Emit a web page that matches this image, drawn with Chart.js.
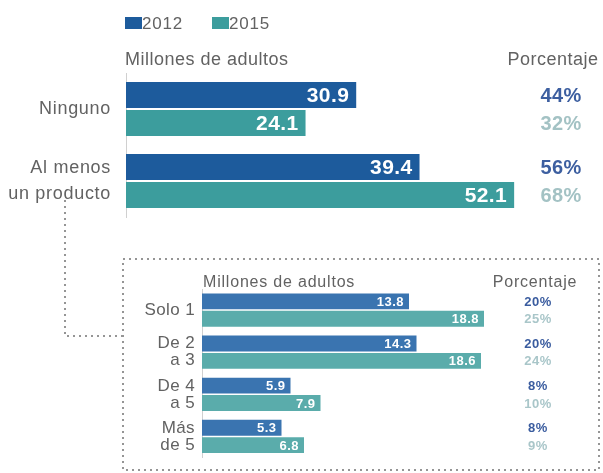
<!DOCTYPE html>
<html>
<head>
<meta charset="utf-8">
<script src="https://cdn.jsdelivr.net/npm/chart.js@4/dist/chart.umd.min.js"></script>
<style>
html,body{margin:0;padding:0;background:#fff;}
#wrap{position:relative;width:603px;height:473px;overflow:hidden;background:#fff;}
#wrap canvas,#wrap svg{position:absolute;left:0;top:0;}
</style>
</head>
<body>
<div id="wrap">
<svg width="603" height="473" xmlns="http://www.w3.org/2000/svg">
  <g fill="none" stroke="#959595" stroke-width="2" stroke-dasharray="2 4">
    <path d="M65 200 V336 H123"/>
    <rect x="123" y="259" width="476" height="211"/>
  </g>
</svg>
<canvas id="topChart" width="603" height="473"></canvas>
<canvas id="subChart" width="603" height="473"></canvas>
</div>
<script>
// ---- data ----
const years = ['2012', '2015'];
const topCategories = ['Ninguno', ['Al menos', 'un producto']];
const top2012 = [30.9, 39.4];
const top2015 = [24.1, 52.1];
const topPct2012 = [44, 56];
const topPct2015 = [32, 68];

const subCategories = ['Solo 1', ['De 2', 'a 3'], ['De 4', 'a 5'], ['Más', 'de 5']];
const sub2012 = [13.8, 14.3, 5.9, 5.3];
const sub2015 = [18.8, 18.6, 7.9, 6.8];
const subPct2012 = [20, 20, 8, 8];
const subPct2015 = [25, 24, 10, 9];

const axisTitle = 'Millones de adultos';
const pctTitle = 'Porcentaje';

// ---- styling ----
const FONT = '"Liberation Sans", Arial, Helvetica, sans-serif';
const GRAY = '#626262';

const decorPlugin = {
  id: 'decor',
  beforeDraw(chart, args, o) {
    chart.ctx.letterSpacing = o.tickSpacing || '0px';
  },
  afterDatasetsDraw(chart, args, o) {
    const ctx = chart.ctx;
    chart.data.datasets.forEach((ds, di) => {
      const meta = chart.getDatasetMeta(di);
      meta.data.forEach((bar, i) => {
        ctx.save();
        ctx.letterSpacing = o.valueSpacing;
        ctx.font = o.valueFont;
        ctx.fillStyle = '#ffffff';
        ctx.textAlign = 'right';
        ctx.textBaseline = 'middle';
        ctx.fillText(ds.data[i].toFixed(1), bar.x - o.inset, bar.y + 1);
        ctx.font = o.pctFont;
        ctx.fillStyle = o.pctColors[di];
        ctx.textAlign = 'center';
        ctx.fillText(o.pct[di][i] + '%', o.pctX, bar.y + 1);
        ctx.restore();
      });
    });
  },
  afterDraw(chart, args, o) {
    const ctx = chart.ctx;
    const area = chart.chartArea;
    ctx.save();
    ctx.fillStyle = GRAY;
    ctx.textBaseline = 'alphabetic';
    ctx.font = o.headFont;
    ctx.letterSpacing = o.headSpacing;
    ctx.textAlign = 'left';
    ctx.fillText(axisTitle, area.left + o.headDx, area.top - o.headDy);
    ctx.textAlign = 'center';
    ctx.fillText(pctTitle, o.pctHeadX, area.top - o.headDy);
    if (o.legend) {
      ctx.font = o.legend.font;
      ctx.letterSpacing = o.legend.spacing;
      ctx.textAlign = 'left';
      chart.data.datasets.forEach((ds, di) => {
        const x = o.legend.x[di];
        ctx.fillStyle = ds.backgroundColor;
        ctx.fillRect(x, o.legend.y, 17, 12);
        ctx.fillStyle = GRAY;
        ctx.fillText(ds.label, x + 17, o.legend.y + 12);
      });
    }
    ctx.restore();
    ctx.letterSpacing = '0px';
  }
};

function makeChart(id, cats, d1, d2, p1, p2, cfg) {
  return new Chart(document.getElementById(id), {
    type: 'bar',
    data: {
      labels: cats,
      datasets: [
        { label: years[0], data: d1, backgroundColor: cfg.colors[0], categoryPercentage: cfg.catPct, barPercentage: cfg.barPct },
        { label: years[1], data: d2, backgroundColor: cfg.colors[1], categoryPercentage: cfg.catPct, barPercentage: cfg.barPct }
      ]
    },
    options: {
      indexAxis: 'y',
      responsive: false,
      animation: false,
      devicePixelRatio: 1,
      layout: { padding: cfg.padding },
      plugins: {
        legend: { display: false },
        tooltip: { enabled: false },
        decor: Object.assign({ pct: [p1, p2] }, cfg.decor)
      },
      scales: {
        x: { display: false, min: 0, max: cfg.xMax },
        y: {
          grid: { display: false, drawTicks: false },
          border: { display: true, color: '#d0d0d0', width: 1 },
          ticks: { font: { family: FONT, size: cfg.tickSize, lineHeight: cfg.lineHeight }, color: GRAY, padding: cfg.tickPad },
          afterFit(s) { s.width = cfg.axisWidth; }
        }
      }
    },
    plugins: [decorPlugin]
  });
}

makeChart('topChart', topCategories, top2012, top2015, topPct2012, topPct2015, {
  colors: ['#1d5b9c', '#3c9d9d'],
  catPct: 0.778, barPct: 0.93,
  padding: { left: 0, top: 73, right: 30, bottom: 256 },
  xMax: 60,
  axisWidth: 126,
  tickSize: 18, lineHeight: 1.45, tickPad: 15,
  decor: {
    tickSpacing: '0.7px',
    valueFont: 'bold 21px ' + FONT, valueSpacing: '0.4px', inset: 7,
    pctFont: 'bold 20px ' + FONT, pctColors: ['#3d5fa0', '#a3c2c4'], pctX: 561,
    headFont: '18px ' + FONT, headSpacing: '0.5px', headDx: -1, headDy: 8, pctHeadX: 553,
    legend: { x: [125, 212], y: 17, font: '17px ' + FONT, spacing: '0.8px' }
  }
});

makeChart('subChart', subCategories, sub2012, sub2015, subPct2012, subPct2015, {
  colors: ['#3a74b0', '#5aacab'],
  catPct: 0.8235, barPct: 0.914,
  padding: { left: 0, top: 289, right: 26, bottom: 14 },
  xMax: 25,
  axisWidth: 202,
  tickSize: 17, lineHeight: 1.0, tickPad: 7,
  decor: {
    tickSpacing: '0.4px',
    valueFont: 'bold 13px ' + FONT, valueSpacing: '0.5px', inset: 5,
    pctFont: 'bold 13px ' + FONT, pctColors: ['#3a5c9f', '#a9c6c9'], pctX: 538,
    headFont: '16px ' + FONT, headSpacing: '0.8px', headDx: 1, headDy: 2, pctHeadX: 535
  }
});
</script>
</body>
</html>
